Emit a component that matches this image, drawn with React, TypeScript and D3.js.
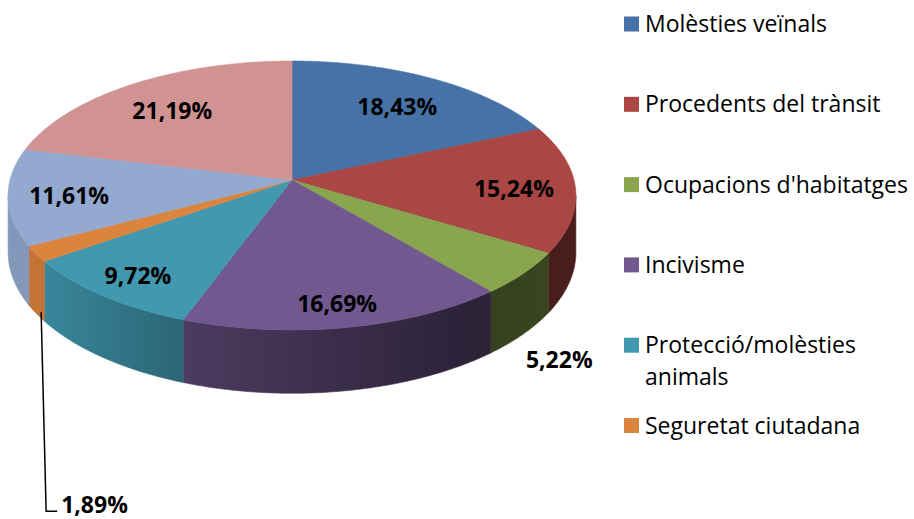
import React from "react";
import * as d3 from "d3";

// ---- data ----
const sliceValues = [18.43, 15.24, 5.22, 16.69, 9.72, 1.89, 11.61, 21.19];
const sliceColors = ["#4672A8", "#AA4643", "#89A54E", "#71588F", "#4198AF", "#DB843D", "#93A9CF", "#D19392"];
const valueLabels = ["18,43%", "15,24%", "5,22%", "16,69%", "9,72%", "1,89%", "11,61%", "21,19%"];
const legendLabels = [
  ["Molèsties veïnals"],
  ["Procedents del trànsit"],
  ["Ocupacions d'habitatges"],
  ["Incivisme"],
  ["Protecció/molèsties", "animals"],
  ["Seguretat ciutadana"],
];

// ---- geometry ----
const W = 914, Hgt = 519;
const CX = 292, CY = 180;
const R = 282;
const D = 8.68 * R;
const K = 132.7 / R;
const DEPTH = 56;

function project(theta: number, r: number, h = 0): [number, number] {
  const x3 = r * R * Math.sin(theta);
  const z = -r * R * Math.cos(theta);
  const s = D / (D - z);
  return [CX + x3 * s, CY + z * K * s + h * s];
}

const pie = d3.pie<number>().sort(null).value((d) => d);
const arcs = pie(sliceValues);
const line = d3.line();

const thetaMin = Math.acos(-R / D);
const thetaMax = 2 * Math.PI - thetaMin;

function sample(a0: number, a1: number, r: number, h = 0): [number, number][] {
  const n = Math.max(2, Math.ceil(Math.abs(a1 - a0) / (Math.PI / 360)));
  return d3.range(n + 1).map((i) => project(a0 + ((a1 - a0) * i) / n, r, h));
}

const wallStops: [number, number][] = [
  [0, 0.9],
  [0.07, 0.88],
  [0.3, 0.68],
  [0.81, 0.39],
  [1, 0.43],
];

function shade(c: string, f: number) {
  const col = d3.rgb(c);
  return d3.rgb(col.r * f, col.g * f, col.b * f).formatHex();
}

export default function App() {
  const leftX = CX - R - 4, rightX = CX + R + 4;
  return (
    <div style={{ position: "fixed", left: 0, top: 0 }}>
      <svg width={W} height={Hgt} style={{ display: "block", background: "#fff" }}>
        <defs>
          {sliceColors.map((c, i) => (
            <linearGradient key={i} id={`wall${i}`} gradientUnits="userSpaceOnUse" x1={leftX} x2={rightX} y1={0} y2={0}>
              {wallStops.map(([o, f], j) => (
                <stop key={j} offset={o} stopColor={shade(c, f)} />
              ))}
            </linearGradient>
          ))}
        </defs>
        {/* walls */}
        <g>
          {arcs.map((a, i) => {
            const s0 = Math.max(a.startAngle, thetaMin);
            const s1 = Math.min(a.endAngle, thetaMax);
            if (s1 <= s0) return null;
            const pts = [...sample(s0, s1, 1, 0), ...sample(s1, s0, 1, DEPTH)];
            return (
              <path key={i} d={line(pts) + "Z"} fill={`url(#wall${i})`} stroke={`url(#wall${i})`} strokeWidth={0.6} />
            );
          })}
        </g>
        {/* top faces */}
        <g>
          {arcs.map((a, i) => {
            const pts = [project(0, 0), ...sample(a.startAngle, a.endAngle, 1, 0)];
            return <path key={i} d={line(pts) + "Z"} fill={sliceColors[i]} stroke={sliceColors[i]} strokeWidth={0.6} />;
          })}
        </g>
        {/* labels */}
        <g fontFamily="'Open Sans', sans-serif" fontWeight="bold" fontSize={23} fill="#000">
          {arcs.map((a, i) => {
            const mid = (a.startAngle + a.endAngle) / 2;
            const v = sliceValues[i];
            if (v < 3) {
              const [ax, ay] = project(mid, 1, DEPTH);
              const by = ay + 198;
              return (
                <g key={i}>
                  <path d={`M${ax + 5},${ay - 1}L${ax + 10},${by}L${ax + 21},${by}`} fill="none" stroke="#000" strokeWidth={1.5} />
                  <text x={ax + 25} y={by + 2}>{valueLabels[i]}</text>
                </g>
              );
            }
            if (v < 6) {
              const [x, y] = project(mid, 1.13, DEPTH);
              return (
                <text key={i} x={x + 3} y={y + 12} textAnchor="middle" dy="0.36em">
                  {valueLabels[i]}
                </text>
              );
            }
            const r = 0.78 - 0.06 * Math.cos(mid);
            const [x, y] = project(mid, r, 0);
            return (
              <text key={i} x={x} y={y + 2} textAnchor="middle" dy="0.36em">
                {valueLabels[i]}
              </text>
            );
          })}
        </g>
        {/* legend */}
        <g fontFamily="'Open Sans', sans-serif" fontSize={23} fill="#000">
          {legendLabels.map((lines, i) => {
            const base = 32 + i * 80.3;
            return (
              <g key={i}>
                <rect x={624} y={base - 15.5} width={15} height={15} fill={sliceColors[i]} />
                {lines.map((t, j) => (
                  <text key={j} x={645} y={base + j * 32}>
                    {t}
                  </text>
                ))}
              </g>
            );
          })}
        </g>
      </svg>
    </div>
  );
}
